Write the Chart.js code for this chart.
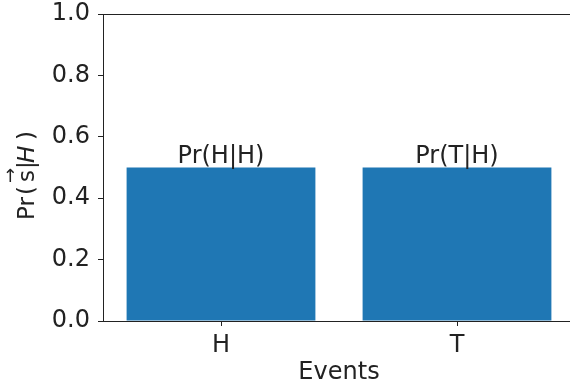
<!DOCTYPE html>
<html>
<head>
<meta charset="utf-8">
<script src="https://cdn.jsdelivr.net/npm/chart.js@4.4.1/dist/chart.umd.min.js"></script>
<style>
  html, body { margin: 0; padding: 0; overflow: hidden; background: #fff; }
  #wrap { width: 576px; height: 385px; position: relative; }
</style>
</head>
<body>
<div id="wrap"><canvas id="chart"></canvas></div>
<script>
'use strict';

var events = ['H', 'T'];
var probs = [0.5, 0.5];
var barLabels = ['Pr(H|H)', 'Pr(T|H)'];
var yTicks = [0.0, 0.2, 0.4, 0.6, 0.8, 1.0];

var fontFamily = "'DejaVu Sans', sans-serif";
var ink = '#222';
var barColor = '#1f77b4';

// top and right spines (matplotlib box)
var frame = {
  id: 'frame',
  afterDraw: function (chart) {
    var a = chart.chartArea;
    var ctx = chart.ctx;
    ctx.save();
    ctx.strokeStyle = ink;
    ctx.lineWidth = 1;
    ctx.beginPath();
    ctx.moveTo(a.left, Math.round(a.top) + 0.5);
    ctx.lineTo(a.right, Math.round(a.top) + 0.5);
    ctx.lineTo(a.right, a.bottom);
    ctx.stroke();
    ctx.restore();
  }
};

// text above each bar
var barText = {
  id: 'barText',
  afterDatasetsDraw: function (chart) {
    var meta = chart.getDatasetMeta(0);
    var ctx = chart.ctx;
    ctx.save();
    ctx.fillStyle = ink;
    ctx.font = '24px ' + fontFamily;
    ctx.textAlign = 'center';
    ctx.textBaseline = 'alphabetic';
    meta.data.forEach(function (el, i) {
      ctx.fillText(barLabels[i], el.x, el.y - 5);
    });
    ctx.restore();
  }
};

// y title: Pr(s-vector | H), rotated, pieces spaced like mathtext
var yTitle = {
  id: 'yTitle',
  afterDraw: function (chart) {
    var ctx = chart.ctx;
    var size = 23;
    ctx.save();
    ctx.translate(34, 220);
    ctx.rotate(-Math.PI / 2);
    ctx.fillStyle = ink;
    ctx.textBaseline = 'alphabetic';
    ctx.textAlign = 'left';
    ctx.font = size + 'px ' + fontFamily;
    ctx.fillText('Pr', 0, 0);
    ctx.fillText('(', 25, 0);
    ctx.fillText('s', 38, 0);
    ctx.fillText('|', 51, 0);
    ctx.fillText(')', 80, 0);
    ctx.font = 'italic ' + size + 'px ' + fontFamily;
    ctx.fillText('H', 57, 0);
    ctx.font = '18px ' + fontFamily;
    ctx.fillText('\u2192', 37, -18);
    ctx.restore();
  }
};

new Chart(document.getElementById('chart'), {
  type: 'bar',
  data: {
    labels: events,
    datasets: [{
      data: probs,
      backgroundColor: barColor,
      borderWidth: 0,
      barPercentage: 0.8,
      categoryPercentage: 1.0
    }]
  },
  options: {
    responsive: true,
    maintainAspectRatio: false,
    animation: false,
    devicePixelRatio: 1,
    layout: { padding: { top: 14, right: 1, left: 0, bottom: 0 } },
    plugins: {
      legend: { display: false },
      tooltip: { enabled: false }
    },
    scales: {
      x: {
        offset: true,
        grid: { offset: false, drawOnChartArea: false, drawTicks: true, tickLength: 5, color: ink },
        border: { display: true, color: ink, width: 1 },
        ticks: { color: ink, padding: 5, font: { family: fontFamily, size: 24 } },
        title: {
          display: true,
          text: 'Events',
          color: ink,
          padding: { top: 0, bottom: -2 },
          font: { family: fontFamily, size: 24 }
        },
        afterFit: function (s) {
          s.height = 64;
          s.paddingLeft = 0;
          s.paddingRight = 0;
        }
      },
      y: {
        min: 0,
        max: 1,
        grid: { drawOnChartArea: false, drawTicks: true, tickLength: 5, color: ink },
        border: { display: true, color: ink, width: 1 },
        ticks: {
          color: ink,
          padding: 8,
          font: { family: fontFamily, size: 24 },
          callback: function (v) { return Number(v).toFixed(1); }
        },
        afterBuildTicks: function (s) {
          s.ticks = yTicks.map(function (v) { return { value: v }; });
        },
        afterFit: function (s) {
          s.width = 103;
          s.paddingTop = 0;
          s.paddingBottom = 0;
        }
      }
    }
  },
  plugins: [frame, barText, yTitle]
});
</script>
</body>
</html>
